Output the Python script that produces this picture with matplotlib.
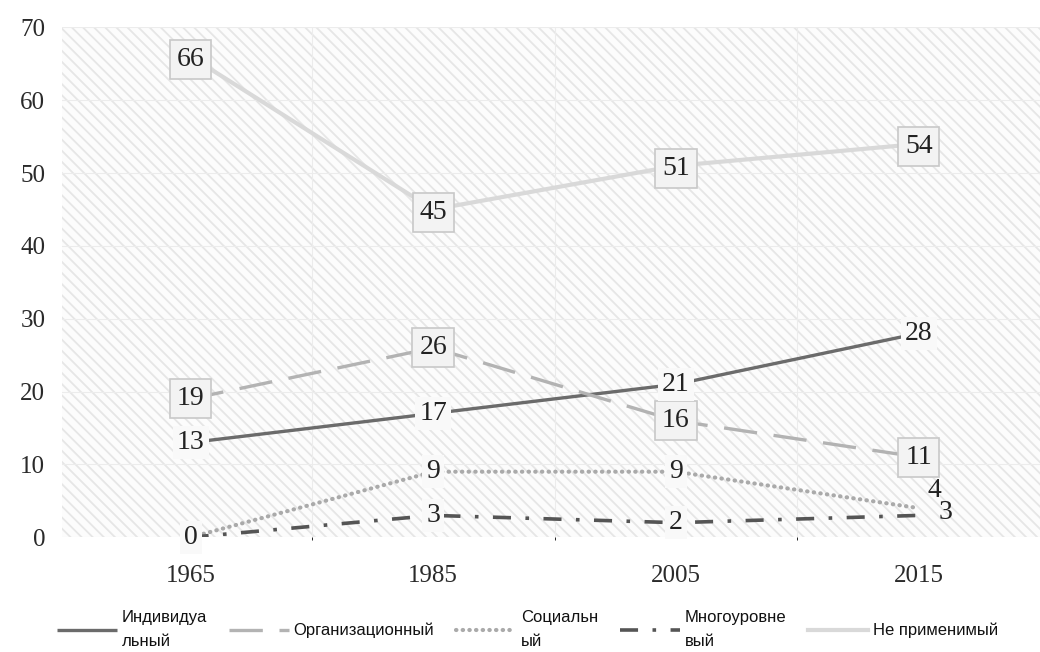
import matplotlib
matplotlib.use('Agg')
import matplotlib.pyplot as plt
import numpy as np

plt.rcParams['hatch.color'] = '#e6e6e6'
plt.rcParams['hatch.linewidth'] = 1.3

years = ['1965', '1985', '2005', '2015']
individ = [13, 17, 21, 28]
organiz = [19, 26, 16, 11]
social = [0, 9, 9, 4]
multi = [0, 3, 2, 3]
not_app = [66, 45, 51, 54]

names = ['Индивидуа\nльный', 'Организационный', 'Социальн\nый',
         'Многоуровне\nвый', 'Не применимый']

x = np.arange(len(years))

fig = plt.figure(figsize=(10.4, 6.52), dpi=100)
ax = fig.add_axes([0.0596, 0.176, 0.9404, 0.782])
ax.set_facecolor('#fcfcfc')
ax.patch.set_hatch('\\\\\\')
ax.patch.set_edgecolor('#e6e6e6')

for s in ax.spines.values():
    s.set_visible(False)

ax.set_xlim(-0.53, 3.5)
ax.set_ylim(0, 70)
ax.set_yticks(range(0, 71, 10))
ax.set_xticks(x)
ax.set_xticklabels(years)
ax.set_xticks([0.5, 1.5, 2.5], minor=True)
ax.grid(axis='y', color='#ececec', lw=0.8)
ax.grid(axis='x', which='minor', color='#ececec', lw=0.8)
ax.tick_params(length=0, labelsize=18)
ax.tick_params(axis='x', pad=20)
ax.tick_params(axis='y', pad=12)
for t in ax.get_xticklabels() + ax.get_yticklabels():
    t.set_family('Liberation Serif')
    t.set_color('#2a2a2a')
ax.set_axisbelow(True)

l1, = ax.plot(x, individ, color='#6b6b6b', lw=2.4, solid_capstyle='butt')
l2, = ax.plot(x, organiz, color='#b3b3b3', lw=2.4, dashes=(10, 5))
l3, = ax.plot(x, social, color='#aaaaaa', lw=3, dashes=(0.1, 1.5), dash_capstyle='round')
l4, = ax.plot(x, multi, color='#555555', lw=2.6, dashes=(5, 4, 1, 4))
l5, = ax.plot(x, not_app, color='#d9d9d9', lw=3)

box = dict(boxstyle='square,pad=0.25', fc='#f3f3f3', ec='#c8c8c8', lw=1.2)
plain = dict(boxstyle='square,pad=0.15', fc='#f9f9f9', ec='none')
clear = dict(boxstyle='square,pad=0.1', fc='none', ec='none')

def lab(xi, yi, txt, bb, dx=0, dy=0):
    ax.annotate(txt, (xi, yi), xytext=(dx, dy), textcoords='offset points',
                ha='center', va='center', fontsize=20, family='Liberation Serif',
                color='#222222', bbox=bb, zorder=5)

for i in range(4):
    lab(x[i], not_app[i], str(not_app[i]), box, dy=-2)
    lab(x[i], organiz[i], str(organiz[i]), box)
    lab(x[i], individ[i], str(individ[i]), plain)
lab(x[0], social[0], '0', plain)
lab(x[1], social[1], '9', plain)
lab(x[2], social[2], '9', plain)
lab(x[3], social[3], '4', clear, dx=11, dy=13)
lab(x[1], multi[1], '3', plain)
lab(x[2], multi[2], '2', plain)
lab(x[3], multi[3], '3', clear, dx=19, dy=2)

leg = fig.legend([l1, l2, l3, l4, l5], names, loc='upper left',
                 bbox_to_anchor=(0.04, 0.088), ncol=5, frameon=False,
                 prop={'family': 'Liberation Sans', 'size': 12},
                 handlelength=3.6, handletextpad=0.3, columnspacing=1.3)
for t in leg.get_texts():
    t.set_color('#111111')
    t.set_linespacing(1.8)

fig.savefig('out.png', dpi=100, facecolor='white')
